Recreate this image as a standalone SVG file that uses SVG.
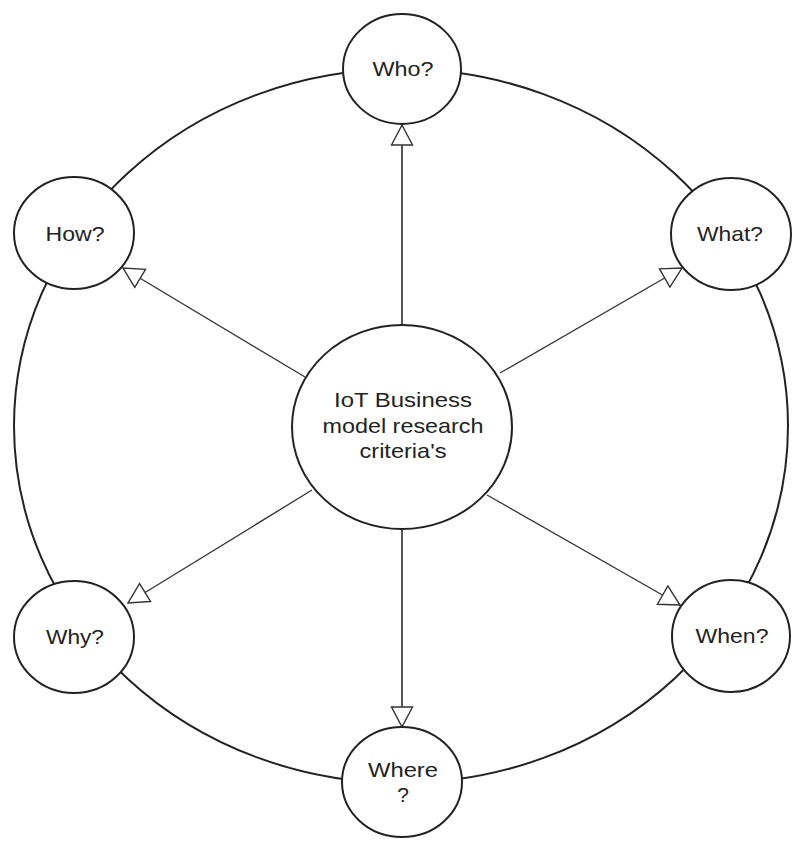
<svg xmlns="http://www.w3.org/2000/svg" width="795" height="843" viewBox="0 0 795 843">
<style>
.n{fill:#fff;stroke:#222;stroke-width:2}
.ring{fill:none;stroke:#222;stroke-width:2}
.c{stroke:#333;stroke-width:1.3;fill:none;marker-end:url(#tri)}
.v{stroke:#555;stroke-width:2}
text{font-family:"Liberation Sans",Arial,sans-serif;font-size:21px;fill:#222;text-anchor:middle}
</style>
<defs>
<marker id="tri" viewBox="0 0 22 24" refX="21" refY="12" markerWidth="22" markerHeight="24" markerUnits="userSpaceOnUse" orient="auto">
<path d="M1,1.5 L21,12 L1,22.5 Z" fill="#fff" stroke="#333" stroke-width="1.4"/>
</marker>
</defs>
<rect width="795" height="843" fill="#fff"/>
<ellipse class="ring" cx="401" cy="426" rx="387" ry="357"/>
<g id="connectors">
<line class="c v" x1="402" y1="325" x2="402" y2="125"/>
<line class="c v" x1="402" y1="529" x2="402" y2="727"/>
<line class="c" x1="305" y1="377" x2="123" y2="268"/>
<line class="c" x1="500" y1="373" x2="682" y2="268"/>
<line class="c" x1="312" y1="490" x2="128" y2="603"/>
<line class="c" x1="487" y1="495" x2="680" y2="605"/>
</g>
<g id="center">
<ellipse class="n" cx="402" cy="427" rx="110" ry="102"/>
<text x="403" y="407" textLength="138" lengthAdjust="spacingAndGlyphs">IoT Business</text>
<text x="403" y="433" textLength="161" lengthAdjust="spacingAndGlyphs">model research</text>
<text x="403" y="458" textLength="87" lengthAdjust="spacingAndGlyphs">criteria's</text>
</g>
<g id="who">
<ellipse class="n" cx="402" cy="69" rx="59" ry="55"/>
<text x="403" y="76" textLength="61" lengthAdjust="spacingAndGlyphs">Who?</text>
</g>
<g id="how">
<ellipse class="n" cx="74" cy="233" rx="60" ry="56"/>
<text x="75" y="241" textLength="59" lengthAdjust="spacingAndGlyphs">How?</text>
</g>
<g id="what">
<ellipse class="n" cx="731" cy="234" rx="60" ry="56"/>
<text x="730" y="241" textLength="66" lengthAdjust="spacingAndGlyphs">What?</text>
</g>
<g id="why">
<ellipse class="n" cx="74" cy="637" rx="60" ry="56"/>
<text x="75" y="644" textLength="58" lengthAdjust="spacingAndGlyphs">Why?</text>
</g>
<g id="when">
<ellipse class="n" cx="731" cy="636" rx="59" ry="56"/>
<text x="732" y="643" textLength="73" lengthAdjust="spacingAndGlyphs">When?</text>
</g>
<g id="where">
<ellipse class="n" cx="402" cy="782" rx="60" ry="55"/>
<text x="403" y="777" textLength="70" lengthAdjust="spacingAndGlyphs">Where</text>
<text x="403" y="802">?</text>
</g>
</svg>
